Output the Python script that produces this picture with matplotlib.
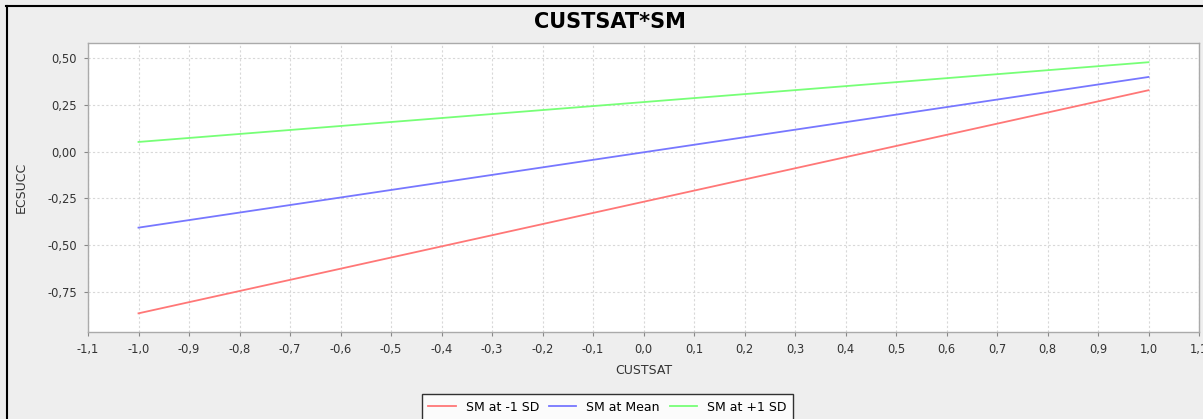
import matplotlib
matplotlib.use("Agg")
import matplotlib.pyplot as plt
import numpy as np
from matplotlib.ticker import FuncFormatter

# Data
custsat = [-1.0, 1.0]
sm_low = [-0.866, 0.329]
sm_mean = [-0.407, 0.400]
sm_high = [0.052, 0.479]
series_labels = ["SM at -1 SD", "SM at Mean", "SM at +1 SD"]
x_ticks = np.round(np.arange(-1.1, 1.11, 0.1), 1)
y_ticks = [-0.75, -0.50, -0.25, 0.0, 0.25, 0.50]

W, H = 1203, 419
fig = plt.figure(figsize=(W / 100, H / 100), dpi=100)
fig.patch.set_facecolor("#EEEEEE")

# outer border lines (top and left)
fig.add_artist(plt.Line2D([6 / W, 1], [1 - 6.5 / H, 1 - 6.5 / H], transform=fig.transFigure, color="black", lw=1.5))
fig.add_artist(plt.Line2D([6.5 / W, 6.5 / W], [0, 1 - 6.5 / H], transform=fig.transFigure, color="black", lw=1.5))

left, right, top, bottom = 88, 1199, 43, 332
ax = fig.add_axes([left / W, 1 - bottom / H, (right - left) / W, (bottom - top) / H])
ax.set_facecolor("white")

ax.plot(custsat, sm_low, color="#FF7777", lw=1.3, label=series_labels[0])
ax.plot(custsat, sm_mean, color="#7777FF", lw=1.3, label=series_labels[1])
ax.plot(custsat, sm_high, color="#77FF77", lw=1.3, label=series_labels[2])

ax.set_xlim(-1.1, 1.1)
ax.set_ylim(-0.966, 0.582)
ax.set_xticks(x_ticks)
ax.set_yticks(y_ticks)
ax.xaxis.set_major_formatter(FuncFormatter(lambda v, p: f"{v:.1f}".replace(".", ",").replace("-0,0", "0,0")))
ax.yaxis.set_major_formatter(FuncFormatter(lambda v, p: f"{v:.2f}".replace(".", ",").replace("-0,00", "0,00")))
ax.tick_params(axis="both", direction="out", length=3, width=0.8, color="#888888", labelsize=8.3, labelcolor="#333333", pad=5)
ax.grid(True, color="#D8D8D8", linestyle=(0, (2, 2)), lw=0.8)
for s in ax.spines.values():
    s.set_color("#AAAAAA")
    s.set_linewidth(1)

ax.set_xlabel("CUSTSAT", fontsize=9, color="#333333", labelpad=6)
ax.set_ylabel("ECSUCC", fontsize=9, color="#333333", labelpad=14)

fig.text(610 / W, 1 - 22 / H, "CUSTSAT*SM", ha="center", va="center", fontsize=15, fontweight="bold")

leg = fig.legend(loc="upper center", bbox_to_anchor=(607.5 / W, 1 - 388 / H), ncol=3, fontsize=9,
                 frameon=True, fancybox=False, edgecolor="black", handlelength=2.2, columnspacing=0.8,
                 handletextpad=0.8, borderpad=0.5)
leg.get_frame().set_linewidth(1)

fig.savefig("out.png", dpi=100, facecolor=fig.get_facecolor())
